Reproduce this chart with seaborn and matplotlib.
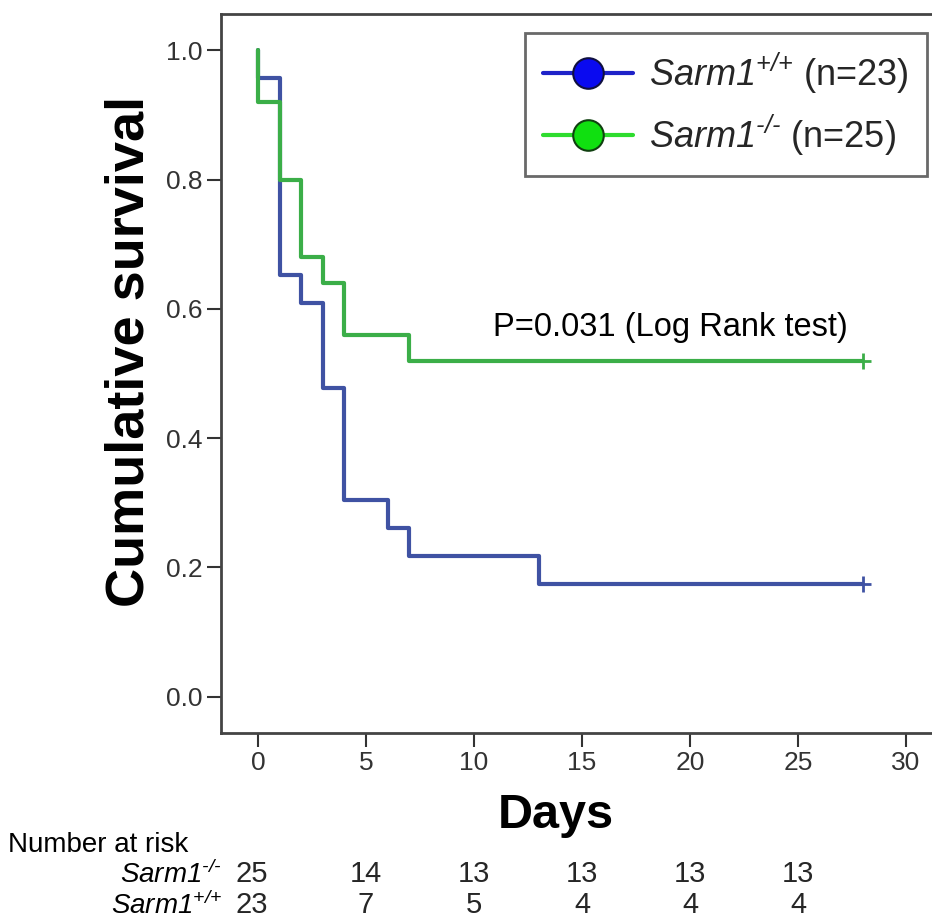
import pandas as pd
import matplotlib
matplotlib.use('Agg')
import matplotlib.pyplot as plt
from matplotlib.lines import Line2D
import seaborn as sns

# Kaplan-Meier steps
wt_time = [0, 0, 1, 2, 3, 4, 6, 7, 13, 28]
wt_surv = [1.0, 0.957, 0.652, 0.609, 0.478, 0.304, 0.261, 0.217, 0.174, 0.174]
ko_time = [0, 0, 1, 2, 3, 4, 7, 28]
ko_surv = [1.0, 0.92, 0.80, 0.68, 0.64, 0.56, 0.52, 0.52]
censor_time = [28, 28]
censor_surv = [0.174, 0.52]

risk_days = [0, 5, 10, 15, 20, 25]
risk_ko = [25, 14, 13, 13, 13, 13]
risk_wt = [23, 7, 5, 4, 4, 4]

x_ticks = [0, 5, 10, 15, 20, 25, 30]
y_ticks = [0.0, 0.2, 0.4, 0.6, 0.8, 1.0]

wt_sym = r'$Sarm1^{\text{+/+}}$'
ko_sym = r'$Sarm1^{\text{-/-}}$'
wt_label = wt_sym + ' (n=23)'
ko_label = ko_sym + ' (n=25)'

sns.set_theme(style='white')
plt.rcParams['font.family'] = ['Liberation Sans', 'DejaVu Sans']
plt.rcParams['mathtext.fontset'] = 'custom'
plt.rcParams['mathtext.rm'] = 'Liberation Sans:italic'
plt.rcParams['mathtext.it'] = 'Liberation Sans:italic'
plt.rcParams['mathtext.bf'] = 'Liberation Sans:bold'

blue = '#3F52A3'
green = '#3BAE48'

fig = plt.figure(figsize=(9.32, 9.21), dpi=100)
ax = fig.add_axes([221 / 932, 1 - 733 / 921, 1 - 221 / 932, (733 - 14) / 921])

wt = pd.DataFrame({'time': wt_time, 'surv': wt_surv})
ko = pd.DataFrame({'time': ko_time, 'surv': ko_surv})
sns.lineplot(data=wt, x='time', y='surv', ax=ax, color=blue, lw=3,
             drawstyle='steps-post', estimator=None, sort=False)
sns.lineplot(data=ko, x='time', y='surv', ax=ax, color=green, lw=3,
             drawstyle='steps-post', estimator=None, sort=False)
ax.plot(censor_time[0], censor_surv[0], marker='+', ms=12, mew=2, color=blue, ls='none')
ax.plot(censor_time[1], censor_surv[1], marker='+', ms=12, mew=2, color=green, ls='none')

ax.set_xlim(-1.71, 31.2)
ax.set_ylim(-0.056, 1.056)
ax.set_xticks(x_ticks)
ax.set_yticks(y_ticks)
ax.set_xticklabels([str(t) for t in x_ticks])
ax.set_yticklabels([f'{t:.1f}' for t in y_ticks])
ax.tick_params(axis='both', which='major', direction='out', length=10, width=1.5,
               color='#333333', labelcolor='#333333', labelsize=19,
               left=True, bottom=True, pad=3)

for side in ['left', 'bottom', 'top']:
    ax.spines[side].set_color('#444444')
    ax.spines[side].set_linewidth(2)
ax.spines['right'].set_visible(False)

ax.set_ylabel('Cumulative survival', fontsize=39, fontweight='bold', color='black')
ax.yaxis.set_label_coords(-0.093, 0.53)
ax.set_xlabel('Days', fontsize=35, fontweight='bold', color='black')
ax.xaxis.set_label_coords(0.471, -0.084)

ax.text(10.9, 0.558, 'P=0.031 (Log Rank test)', fontsize=23.5, color='black',
        ha='left', va='baseline')

handles = [
    Line2D([0], [0], color='#1E22C8', lw=3, marker='o', ms=22,
           markerfacecolor='#0A0AF0', markeredgecolor='#101040', markeredgewidth=1.5),
    Line2D([0], [0], color='#2EDC2E', lw=3, marker='o', ms=22,
           markerfacecolor='#10E010', markeredgecolor='#104010', markeredgewidth=1.5),
]
leg = ax.legend(handles, [wt_label, ko_label], loc='upper right',
                bbox_to_anchor=((927 - 221) / 711, (733 - 33) / 719),
                fontsize=26, frameon=True, fancybox=False, handlelength=2.5,
                handletextpad=0.45, borderpad=0.5, labelspacing=0.45,
                borderaxespad=0)
leg.get_frame().set_edgecolor('#444444')
leg.get_frame().set_linewidth(2)

# number at risk table
fig.text(8 / 932, 1 - 845 / 921, 'Number at risk', fontsize=20,
         ha='left', va='center', color='black')
fig.text(222 / 932, 1 - 875 / 921, ko_sym, fontsize=20,
         ha='right', va='center', color='black')
fig.text(222 / 932, 1 - 906 / 921, wt_sym, fontsize=20,
         ha='right', va='center', color='black')
for d, a, b in zip(risk_days, risk_ko, risk_wt):
    xf = ax.transData.transform((d, 0))[0] / fig.bbox.width
    xf = xf - 6 / 932 if d == 0 else xf
    fig.text(xf, 1 - 874 / 921, str(a), fontsize=21,
             ha='center', va='center')
    fig.text(xf, 1 - 905 / 921, str(b), fontsize=21,
             ha='center', va='center')

fig.savefig('out.png', dpi=100)
